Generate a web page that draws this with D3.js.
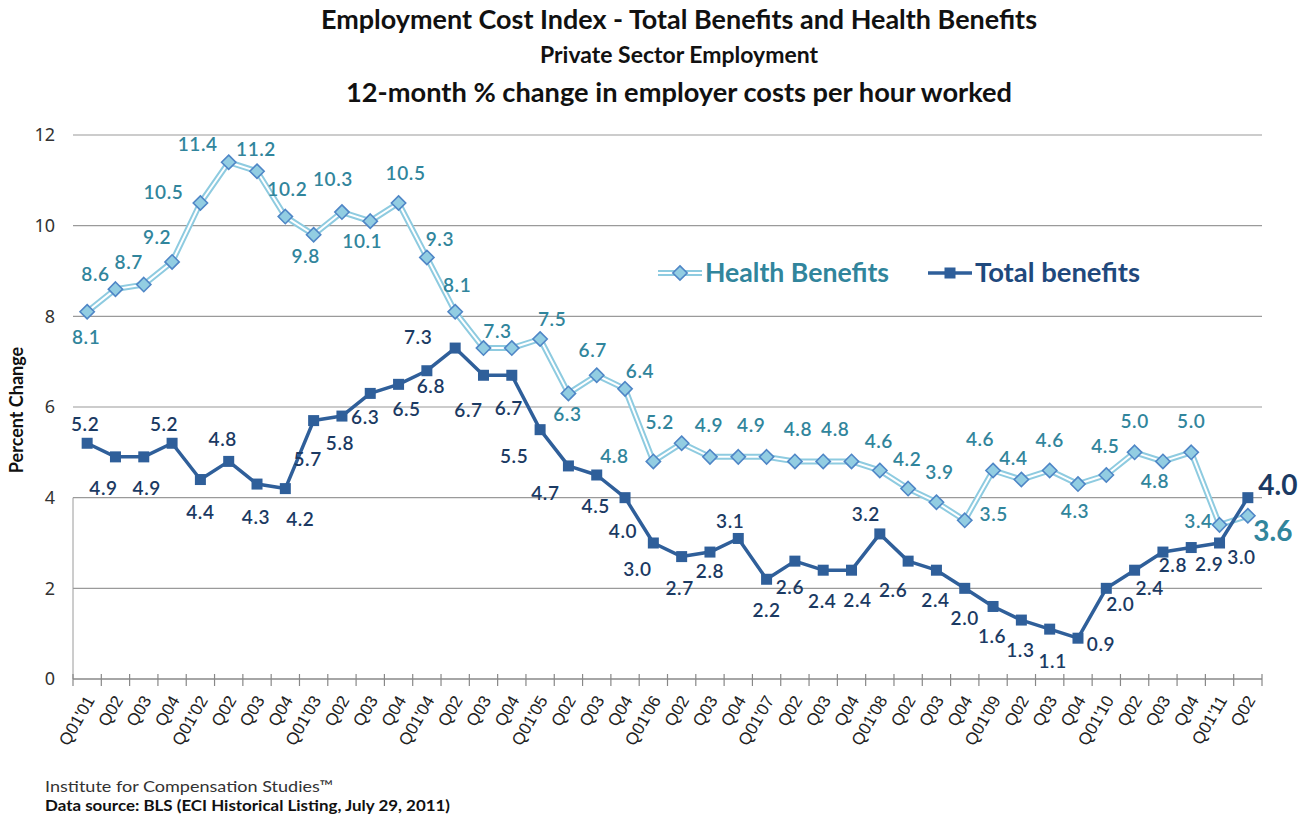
<!DOCTYPE html>
<html>
<head>
<meta charset="utf-8">
<script src="https://cdn.jsdelivr.net/npm/d3@7"></script>
<style>
  html, body { margin: 0; padding: 0; background: #fff; }
  svg { display: block; }
</style>
</head>
<body>
<svg id="chart" width="1307" height="819"></svg>
<script>
// ---------- data ----------
const quarters = [
  "Q01'01","Q02","Q03","Q04",
  "Q01'02","Q02","Q03","Q04",
  "Q01'03","Q02","Q03","Q04",
  "Q01'04","Q02","Q03","Q04",
  "Q01'05","Q02","Q03","Q04",
  "Q01'06","Q02","Q03","Q04",
  "Q01'07","Q02","Q03","Q04",
  "Q01'08","Q02","Q03","Q04",
  "Q01'09","Q02","Q03","Q04",
  "Q01'10","Q02","Q03","Q04",
  "Q01'11","Q02"
];
const healthBenefits = [
  8.1, 8.6, 8.7, 9.2,
  10.5, 11.4, 11.2, 10.2,
  9.8, 10.3, 10.1, 10.5,
  9.3, 8.1, 7.3, 7.3,
  7.5, 6.3, 6.7, 6.4,
  4.8, 5.2, 4.9, 4.9,
  4.9, 4.8, 4.8, 4.8,
  4.6, 4.2, 3.9, 3.5,
  4.6, 4.4, 4.6, 4.3,
  4.5, 5.0, 4.8, 5.0,
  3.4, 3.6
];
const totalBenefits = [
  5.2, 4.9, 4.9, 5.2,
  4.4, 4.8, 4.3, 4.2,
  5.7, 5.8, 6.3, 6.5,
  6.8, 7.3, 6.7, 6.7,
  5.5, 4.7, 4.5, 4.0,
  3.0, 2.7, 2.8, 3.1,
  2.2, 2.6, 2.4, 2.4,
  3.2, 2.6, 2.4, 2.0,
  1.6, 1.3, 1.1, 0.9,
  2.0, 2.4, 2.8, 2.9,
  3.0, 4.0
];
const yTicks = [0, 2, 4, 6, 8, 10, 12];

// data-label placement offsets (label centre relative to the point), null = no label
const healthLabelOffsets = [
  [-1,26],[-20,-15],[-15,-22],[-15,-25],
  [-37,-11],[-31,-18],[-1,-22],[2,-27],
  [-8,22],[-9,-33],[-8,20],[7,-30],
  [13,-18],[2,-26],[14,-17],null,
  [12,-20],[-1,21],[-4,-25],[15,-18],
  [-39,-5],[-22,-21],[-1,-32],[13,-32],
  null,[3,-32],[12,-32],null,
  [-1,-29],[-1,-29],[3,-30],[29,-6],
  [-13,-31],[-8,-21],[0,-30],[-3,27],
  [-1,-29],[0,-31],[-8,20],[0,-31],
  [-21,-4],[25,15]
];
const totalLabelOffsets = [
  [-2,-19],[-12,31],[3,31],[-8,-19],
  [0,33],[-6,-22],[-1,33],[15,31],
  [-6,39],[-2,27],[-5,24],[8,25],
  [4,16],[-37,-11],[-15,35],[-3,33],
  [-26,27],[-23,27],[-1,31],[-2,34],
  [-16,26],[-2,32],[0,19],[-8,-17],
  [0,31],[-5,26],[-1,31],[6,30],
  [-14,-20],[-15,29],[-1,30],[0,30],
  [-1,30],[-1,30],[3,32],[23,6],
  [14,16],[15,18],[10,13],[18,17],
  [22,14],[30,-12]
];

// ---------- layout ----------
const svg = d3.select("#chart");
const plot = { left: 73, right: 1262, top: 135, bottom: 679 };

const x = d3.scalePoint()
  .domain(d3.range(quarters.length))
  .range([plot.left, plot.right])
  .padding(0.5);
const step = x.step();
const y = d3.scaleLinear().domain([0, 12]).range([plot.bottom, plot.top]);

const healthColor = "#31859C";
const totalLabelColor = "#1B3A63";
const totalLineColor = "#2F5F9A";
const lblFont = "Lato, 'Open Sans', sans-serif";

// ---------- titles ----------
const titles = svg.append("g").attr("font-family", lblFont).attr("text-anchor", "middle").attr("fill", "#111");
titles.append("text").attr("x", 679).attr("y", 29).attr("font-size", 27).attr("font-weight", 700)
  .attr("textLength", 716).attr("lengthAdjust", "spacingAndGlyphs")
  .text("Employment Cost Index - Total Benefits and Health Benefits");
titles.append("text").attr("x", 679).attr("y", 63).attr("font-size", 22).attr("font-weight", 700)
  .attr("textLength", 278).attr("lengthAdjust", "spacingAndGlyphs")
  .text("Private Sector Employment");
titles.append("text").attr("x", 679).attr("y", 102).attr("font-size", 27).attr("font-weight", 700)
  .attr("textLength", 666).attr("lengthAdjust", "spacingAndGlyphs")
  .text("12-month % change in employer costs per hour worked");

// ---------- gridlines ----------
svg.append("g")
  .selectAll("line")
  .data(yTicks.filter(d => d > 0))
  .join("line")
  .attr("x1", plot.left).attr("x2", plot.right)
  .attr("y1", d => y(d)).attr("y2", d => y(d))
  .attr("stroke", "#9a9a9a").attr("stroke-width", 1.2);

// faint y-axis segment
svg.append("line")
  .attr("x1", plot.left).attr("x2", plot.left)
  .attr("y1", y(4)).attr("y2", y(0))
  .attr("stroke", "#9a9a9a").attr("stroke-width", 1);

// y axis labels
const yAxis = d3.axisLeft(y).tickValues(yTicks).tickSize(0).tickPadding(18).tickFormat(d3.format("d"));
const gy = svg.append("g").attr("transform", `translate(${plot.left},0)`).call(yAxis);
gy.select(".domain").remove();
gy.selectAll("text").attr("font-family", "'Noto Sans', 'Open Sans', sans-serif").attr("font-size", 18).attr("fill", "#333");

svg.append("text")
  .attr("transform", `translate(23,${(plot.top + plot.bottom) / 2 + 3}) rotate(-90)`)
  .attr("text-anchor", "middle")
  .attr("font-family", lblFont).attr("font-weight", 700).attr("font-size", 18).attr("fill", "#111")
  .text("Percent Change");

// x axis
const boundaries = d3.range(quarters.length + 1).map(i => plot.left + i * step);
const gx = svg.append("g");
gx.append("line").attr("x1", plot.left).attr("x2", plot.right).attr("y1", y(0)).attr("y2", y(0))
  .attr("stroke", "#888").attr("stroke-width", 1.3);
gx.selectAll("line.tick").data(boundaries).join("line").attr("class", "tick")
  .attr("x1", d => d).attr("x2", d => d).attr("y1", y(0) - 5).attr("y2", y(0) + 7)
  .attr("stroke", "#888").attr("stroke-width", 1.2);
gx.selectAll("text").data(quarters).join("text")
  .attr("transform", (d, i) => `translate(${x(i) + 3},${y(0) + 18}) rotate(-60)`)
  .attr("text-anchor", "end")
  .attr("dy", "0.35em")
  .attr("font-family", "'Liberation Sans', Arial, sans-serif")
  .attr("font-size", 17).attr("fill", "#222")
  .text(d => d);

// ---------- health benefits series ----------
const lineGen = d3.line().x((d, i) => x(i)).y(d => y(d));
svg.append("path").datum(healthBenefits).attr("d", lineGen)
  .attr("fill", "none").attr("stroke", "#8ecbe0").attr("stroke-width", 6).attr("stroke-linejoin", "round");
svg.append("path").datum(healthBenefits).attr("d", lineGen)
  .attr("fill", "none").attr("stroke", "#ffffff").attr("stroke-width", 2).attr("stroke-linejoin", "round");

// ---------- total benefits series ----------
svg.append("path").datum(totalBenefits).attr("d", lineGen)
  .attr("fill", "none").attr("stroke", totalLineColor).attr("stroke-width", 3.5).attr("stroke-linejoin", "round");

// markers: total squares
svg.append("g").selectAll("rect").data(totalBenefits).join("rect")
  .attr("x", (d, i) => x(i) - 5.5).attr("y", d => y(d) - 5.5)
  .attr("width", 11).attr("height", 11)
  .attr("fill", totalLineColor);

// markers: health diamonds
const diamond = d3.symbol().type(d3.symbolDiamond2).size(130);
svg.append("g").selectAll("path").data(healthBenefits).join("path")
  .attr("transform", (d, i) => `translate(${x(i)},${y(d)})`)
  .attr("d", diamond)
  .attr("fill", "#92cde2").attr("stroke", "#4f86c6").attr("stroke-width", 1.6);

// ---------- data labels ----------
const fmt = d3.format(".1f");
const last = quarters.length - 1;
function labelData(values, offsets) {
  return values.map((v, i) => ({ v, i, off: offsets[i] })).filter(d => d.off !== null);
}
function drawLabels(values, offsets, color) {
  svg.append("g").selectAll("text").data(labelData(values, offsets)).join("text")
    .attr("x", d => x(d.i) + d.off[0])
    .attr("y", d => y(d.v) + d.off[1])
    .attr("dy", "0.35em").attr("text-anchor", "middle")
    .attr("font-family", lblFont)
    .attr("font-size", d => d.i === last ? 28 : 19)
    .attr("font-weight", d => d.i === last ? 700 : 600)
    .attr("letter-spacing", d => d.i === last ? 0 : 0.6)
    .attr("fill", color)
    .text(d => fmt(d.v));
}
drawLabels(totalBenefits, totalLabelOffsets, totalLabelColor);
drawLabels(healthBenefits, healthLabelOffsets, healthColor);

// ---------- legend ----------
const legend = svg.append("g").attr("font-family", lblFont).attr("font-size", 27).attr("font-weight", 700);
const legY = 273;
// health
legend.append("line").attr("x1", 658).attr("x2", 702).attr("y1", legY).attr("y2", legY)
  .attr("stroke", "#8ecbe0").attr("stroke-width", 6);
legend.append("line").attr("x1", 658).attr("x2", 702).attr("y1", legY).attr("y2", legY)
  .attr("stroke", "#fff").attr("stroke-width", 2);
legend.append("path").attr("transform", `translate(680,${legY})`).attr("d", diamond)
  .attr("fill", "#92cde2").attr("stroke", "#4f86c6").attr("stroke-width", 1.6);
legend.append("text").attr("x", 705).attr("y", legY).attr("dy", "0.35em").attr("fill", healthColor)
  .attr("textLength", 184).attr("lengthAdjust", "spacingAndGlyphs")
  .text("Health Benefits");
// total
legend.append("line").attr("x1", 928).attr("x2", 972).attr("y1", legY).attr("y2", legY)
  .attr("stroke", totalLineColor).attr("stroke-width", 3.5);
legend.append("rect").attr("x", 944.5).attr("y", legY - 5.5).attr("width", 11).attr("height", 11)
  .attr("fill", totalLineColor);
legend.append("text").attr("x", 975).attr("y", legY).attr("dy", "0.35em").attr("fill", "#1F497D")
  .attr("textLength", 165).attr("lengthAdjust", "spacingAndGlyphs")
  .text("Total benefits");

// ---------- footer ----------
svg.append("text").attr("x", 45).attr("y", 792).attr("font-family", lblFont).attr("font-size", 16)
  .attr("fill", "#333").attr("textLength", 288).attr("lengthAdjust", "spacingAndGlyphs")
  .text("Institute for Compensation Studies™");
svg.append("text").attr("x", 45).attr("y", 811).attr("font-family", lblFont).attr("font-size", 16)
  .attr("font-weight", 700).attr("fill", "#111").attr("textLength", 405).attr("lengthAdjust", "spacingAndGlyphs")
  .text("Data source: BLS (ECI Historical Listing, July 29, 2011)");
</script>
</body>
</html>
